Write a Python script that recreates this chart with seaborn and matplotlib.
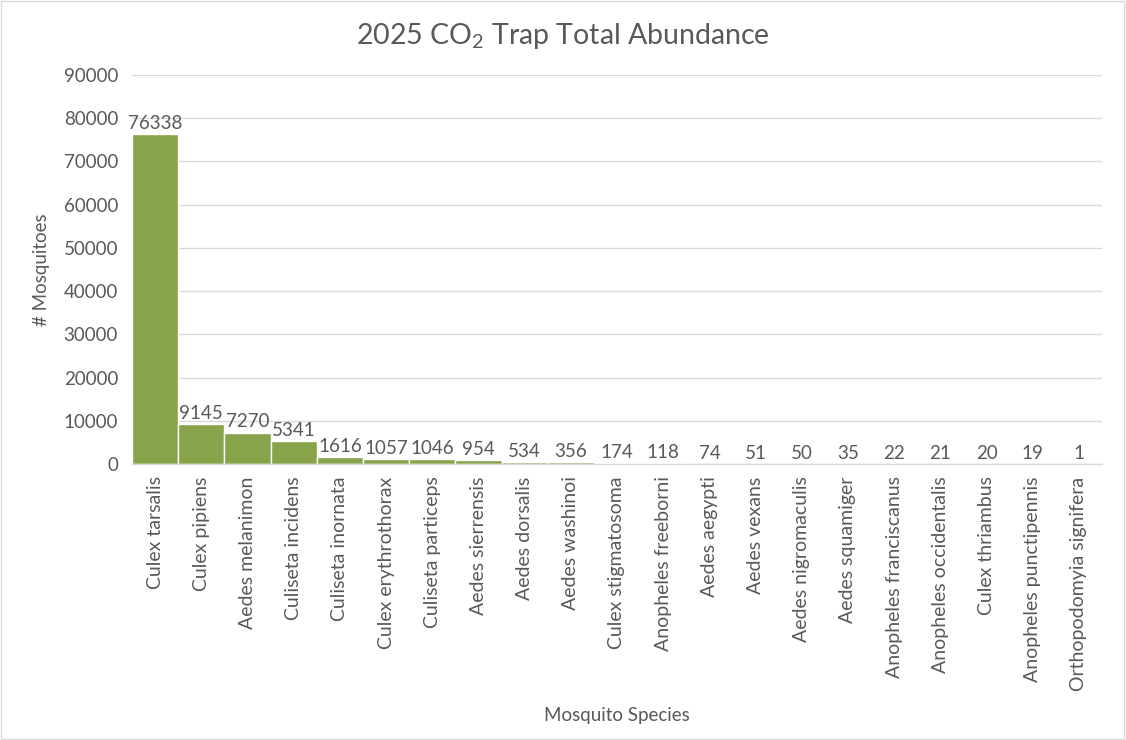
import matplotlib
matplotlib.use("Agg")
import matplotlib.pyplot as plt
import seaborn as sns
import pandas as pd

species = [
    "Culex tarsalis", "Culex pipiens", "Aedes melanimon", "Culiseta incidens",
    "Culiseta inornata", "Culex erythrothorax", "Culiseta particeps",
    "Aedes sierrensis", "Aedes dorsalis", "Aedes washinoi", "Culex stigmatosoma",
    "Anopheles freeborni", "Aedes aegypti", "Aedes vexans", "Aedes nigromaculis",
    "Aedes squamiger", "Anopheles franciscanus", "Anopheles occidentalis",
    "Culex thriambus", "Anopheles punctipennis", "Orthopodomyia signifera",
]
counts = [76338, 9145, 7270, 5341, 1616, 1057, 1046, 954, 534, 356, 174,
          118, 74, 51, 50, 35, 22, 21, 20, 19, 1]
y_ticks = [0, 10000, 20000, 30000, 40000, 50000, 60000, 70000, 80000, 90000]

df = pd.DataFrame({"Species": species, "Count": counts})

sns.set_theme(style="white")
plt.rcParams["font.family"] = ["Lato", "DejaVu Sans"]
plt.rcParams["mathtext.fontset"] = "custom"
plt.rcParams["mathtext.rm"] = "Lato"

text_color = "#595959"
bar_color = "#88A44B"

fig = plt.figure(figsize=(11.26, 7.40), dpi=100)
ax = fig.add_axes([0.1172, 0.373, 0.8615, 0.5256])

sns.barplot(data=df, x="Species", y="Count", color=bar_color, width=1.0,
            edgecolor="white", linewidth=1.0, saturation=1, ax=ax, zorder=2)

ax.set_ylim(0, 90000)
ax.set_xlim(-0.5, len(species) - 0.5)
ax.set_yticks(y_ticks)
ax.set_yticklabels([str(v) for v in y_ticks], fontsize=13.5, color=text_color)
ax.yaxis.grid(True, color="#D9D9D9", linewidth=1.0, zorder=0)
ax.set_axisbelow(True)

ax.set_xticks(range(len(species)))
ax.set_xticklabels(species, rotation=90, fontsize=14, color=text_color)
ax.tick_params(axis="x", length=0, pad=9)
ax.tick_params(axis="y", length=0, pad=10)

for s in ["top", "right", "left"]:
    ax.spines[s].set_visible(False)
ax.spines["bottom"].set_color("#D9D9D9")
ax.spines["bottom"].set_linewidth(1.0)

for i, v in enumerate(counts):
    ax.annotate(str(v), (i, v), xytext=(0, 1.5), textcoords="offset points",
                ha="center", va="bottom", fontsize=13.5, color=text_color)

ax.set_ylabel("# Mosquitoes", fontsize=13.5, color=text_color)
ax.set_xlabel("Mosquito Species", fontsize=13.5, color=text_color)
ax.xaxis.set_label_coords(0.5, -0.625)
ax.yaxis.set_label_coords(-0.084, 0.5)

fig.suptitle(r"2025 CO$_\mathregular{2}$ Trap Total Abundance", fontsize=20.5,
             color=text_color, y=0.971)

border = plt.Rectangle((0.001, 0.001), 0.997, 0.997, transform=fig.transFigure,
                       fill=False, edgecolor="#D9D9D9", linewidth=1.0)
fig.patches.append(border)

fig.savefig("out.png", dpi=100, facecolor="white")
